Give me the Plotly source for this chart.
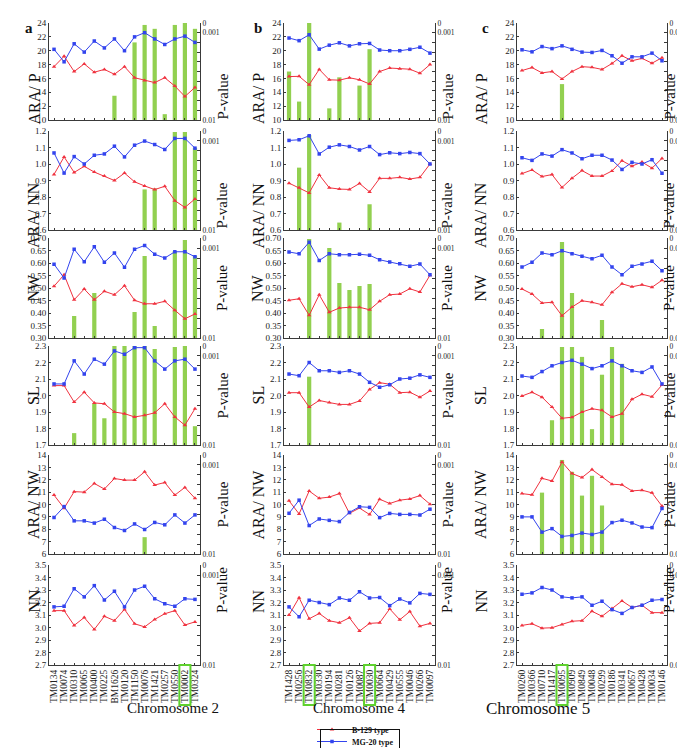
import plotly.graph_objects as go

W, H = 685, 748

# ---------------- data ----------------
chr2_markers = ["TM0134", "TM0074", "TM0310", "TM0065", "TM0400", "TM0225", "BM1626", "TM0120",
                "TM1150", "TM0076", "TM1421", "TM0257", "TM0550", "TM0002", "TM0324"]
chr4_markers = ["TM1428", "TM0256", "TM0832", "TM0330", "TM0194", "TM0281", "TM0126", "TM0087",
                "TM0030", "TM0664", "TM0429", "TM0555", "TM0046", "TM0266", "TM0097"]
chr5_markers = ["TM0260", "TM0366", "TM0710", "TM1417", "TM0095", "TM0909", "TM0849", "TM0048",
                "TM0299", "TM0186", "TM0341", "TM0657", "TM0428", "TM0034", "TM0146"]

trait_names = ["ARA/ P", "ARA/ NN", "NW", "SL", "ARA/ NW", "NN"]
trait_ranges = [[10, 24], [0.6, 1.2], [0.3, 0.7], [1.7, 2.3], [6, 14], [2.7, 3.5]]
trait_dticks = [2, 0.1, 0.05, 0.1, 1, 0.1]
trait_formats = ["d", ".1f", ".2f", ".1f", "d", ".1f"]

# P-value axis: position 0 = 0.01, 9 = 0.001, 10 = 0
pval_tickvals = [0, 1, 2, 3, 4, 5, 6, 7, 8, 9, 10]
pval_ticktext = ["0.01", "", "", "", "", "", "", "", "", "0.001", "0"]

# Chromosome 2
chr2_arap_b129 = [17.7, 19.2, 17.0, 18.1, 16.9, 17.3, 16.6, 17.7, 16.1, 15.7, 15.4, 16.1, 14.9, 13.4, 14.7]
chr2_arap_mg20 = [20.2, 18.4, 21.0, 19.8, 21.4, 20.4, 21.7, 20.0, 22.0, 22.6, 21.7, 20.9, 21.7, 22.1, 21.2]
chr2_arap_p = [0, 0, 0, 0, 0, 0, 2.5, 0, 8.0, 9.8, 9.4, 0.6, 9.8, 10.0, 9.4]
chr2_arann_b129 = [0.937, 1.043, 0.949, 0.986, 0.951, 0.927, 0.900, 0.945, 0.892, 0.867, 0.845, 0.865, 0.778, 0.737, 0.788]
chr2_arann_mg20 = [1.067, 0.945, 1.045, 1.000, 1.053, 1.061, 1.108, 1.043, 1.114, 1.139, 1.118, 1.088, 1.155, 1.155, 1.096]
chr2_arann_p = [0, 0, 0, 0, 0, 0, 0, 0, 0, 4.1, 4.2, 0, 9.9, 9.9, 8.3]
chr2_nw_b129 = [0.507, 0.553, 0.453, 0.496, 0.453, 0.487, 0.473, 0.509, 0.451, 0.437, 0.437, 0.447, 0.411, 0.377, 0.396]
chr2_nw_mg20 = [0.595, 0.540, 0.655, 0.605, 0.665, 0.603, 0.640, 0.583, 0.655, 0.670, 0.635, 0.620, 0.645, 0.645, 0.625]
chr2_nw_p = [0, 0, 2.2, 0, 4.5, 0, 0, 0, 2.6, 8.2, 1.2, 0, 8.7, 9.8, 8.2]
chr2_sl_b129 = [2.06, 2.06, 1.96, 2.02, 1.955, 1.95, 1.90, 1.89, 1.87, 1.88, 1.895, 1.95, 1.87, 1.82, 1.92]
chr2_sl_mg20 = [2.07, 2.07, 2.21, 2.13, 2.22, 2.19, 2.27, 2.25, 2.29, 2.29, 2.21, 2.16, 2.21, 2.22, 2.16]
chr2_sl_p = [0, 0, 1.2, 0, 4.2, 2.7, 10.0, 10.0, 10.0, 10.0, 9.7, 0, 9.9, 10.0, 1.9]
chr2_aranw_b129 = [10.76, 9.70, 11.04, 11.0, 11.7, 11.25, 12.1, 11.97, 11.97, 12.64, 11.57, 11.78, 10.76, 11.38, 10.5]
chr2_aranw_mg20 = [8.95, 9.83, 8.68, 8.68, 8.5, 8.81, 8.14, 7.9, 8.43, 7.98, 8.55, 8.36, 9.16, 8.5, 9.16]
chr2_aranw_p = [0, 0, 0, 0, 0, 0, 0, 0, 0, 1.7, 0, 0, 0, 0, 0]
chr2_nn_b129 = [3.135, 3.135, 3.017, 3.08, 2.985, 3.09, 3.055, 3.145, 3.03, 3.005, 3.065, 3.11, 3.135, 3.02, 3.045]
chr2_nn_mg20 = [3.165, 3.17, 3.31, 3.245, 3.335, 3.22, 3.29, 3.165, 3.30, 3.33, 3.23, 3.19, 3.17, 3.23, 3.225]
chr2_nn_p = [0] * 15

# Chromosome 4
chr4_arap_b129 = [16.27, 16.3, 15.1, 17.3, 15.8, 15.75, 16.1, 15.8, 15.2, 17.0, 17.5, 17.4, 17.33, 16.75, 18.0]
chr4_arap_mg20 = [21.83, 21.45, 22.3, 20.23, 20.8, 21.14, 20.7, 21.0, 21.05, 20.1, 20.0, 20.0, 20.2, 20.5, 19.65]
chr4_arap_p = [5.0, 1.9, 10.0, 0, 1.2, 4.4, 0, 3.55, 7.3, 0, 0, 0, 0, 0, 0]
chr4_arann_b129 = [0.884, 0.856, 0.825, 0.934, 0.856, 0.848, 0.846, 0.882, 0.831, 0.913, 0.913, 0.919, 0.909, 0.919, 1.0]
chr4_arann_mg20 = [1.143, 1.147, 1.171, 1.061, 1.102, 1.116, 1.106, 1.085, 1.106, 1.057, 1.068, 1.063, 1.07, 1.063, 1.0]
chr4_arann_p = [0, 6.3, 9.6, 0, 0, 0.75, 0, 0, 2.6, 0, 0, 0, 0, 0, 0]
chr4_nw_b129 = [0.451, 0.457, 0.391, 0.473, 0.403, 0.420, 0.423, 0.423, 0.413, 0.447, 0.473, 0.476, 0.497, 0.484, 0.551]
chr4_nw_mg20 = [0.644, 0.637, 0.683, 0.610, 0.637, 0.633, 0.633, 0.635, 0.631, 0.613, 0.604, 0.597, 0.587, 0.596, 0.553]
chr4_nw_p = [0, 0, 9.9, 0, 9.0, 5.5, 4.8, 5.2, 5.4, 0, 0, 0, 0, 0, 0]
chr4_sl_b129 = [2.017, 2.017, 1.93, 1.97, 1.957, 1.946, 1.946, 1.967, 2.037, 2.078, 2.068, 2.017, 2.02, 1.99, 2.027]
chr4_sl_mg20 = [2.13, 2.12, 2.2, 2.15, 2.15, 2.14, 2.15, 2.13, 2.08, 2.05, 2.065, 2.10, 2.105, 2.125, 2.11]
chr4_sl_p = [0, 0, 6.9, 0, 0, 0, 0, 0, 0, 0, 0, 0, 0, 0, 0]
chr4_aranw_b129 = [10.3, 9.24, 11.09, 10.5, 10.6, 10.88, 9.29, 9.71, 9.19, 10.43, 10.08, 10.35, 10.45, 10.72, 10.03]
chr4_aranw_mg20 = [9.29, 10.35, 8.3, 8.83, 8.72, 8.62, 9.36, 9.82, 9.77, 8.94, 9.28, 9.2, 9.2, 9.15, 9.62]
chr4_aranw_p = [0] * 15
chr4_nn_b129 = [3.1, 3.239, 3.07, 3.112, 3.054, 3.038, 3.078, 2.972, 3.033, 3.038, 3.149, 3.062, 3.128, 3.011, 3.033]
chr4_nn_mg20 = [3.165, 3.086, 3.218, 3.2, 3.183, 3.236, 3.218, 3.286, 3.236, 3.24, 3.175, 3.228, 3.197, 3.273, 3.265]
chr4_nn_p = [0] * 15

# Chromosome 5
chr5_arap_b129 = [17.14, 17.57, 16.8, 17.0, 15.93, 17.0, 17.7, 17.6, 17.3, 18.15, 19.27, 18.55, 18.9, 18.2, 18.99]
chr5_arap_mg20 = [20.13, 19.84, 20.6, 20.3, 20.7, 20.2, 19.8, 19.75, 20.04, 19.27, 18.2, 19.12, 19.12, 19.65, 18.55]
chr5_arap_p = [0, 0, 0, 0, 3.7, 0, 0, 0, 0, 0, 0, 0, 0, 0, 0]
chr5_arann_b129 = [0.942, 0.964, 0.924, 0.936, 0.858, 0.914, 0.96, 0.927, 0.927, 0.958, 1.02, 0.987, 1.012, 0.975, 1.034]
chr5_arann_mg20 = [1.038, 1.022, 1.061, 1.048, 1.087, 1.067, 1.032, 1.053, 1.053, 1.024, 0.967, 1.01, 1.0, 1.026, 0.944]
chr5_arann_p = [0] * 15
chr5_nw_b129 = [0.496, 0.476, 0.44, 0.443, 0.389, 0.424, 0.449, 0.443, 0.433, 0.483, 0.517, 0.505, 0.513, 0.503, 0.531]
chr5_nw_mg20 = [0.584, 0.603, 0.64, 0.633, 0.649, 0.637, 0.627, 0.617, 0.631, 0.584, 0.553, 0.587, 0.596, 0.607, 0.569]
chr5_nw_p = [0, 0, 0.9, 0, 9.6, 4.5, 0, 0, 1.8, 0, 0, 0, 0, 0, 0]
chr5_sl_b129 = [1.997, 2.02, 1.99, 1.93, 1.862, 1.868, 1.9, 1.92, 1.91, 1.87, 1.89, 1.977, 2.008, 1.993, 2.064]
chr5_sl_mg20 = [2.118, 2.11, 2.145, 2.18, 2.2, 2.213, 2.19, 2.163, 2.18, 2.21, 2.18, 2.15, 2.14, 2.173, 2.07]
chr5_sl_p = [0, 0, 0, 2.5, 9.9, 9.9, 8.9, 1.6, 7.1, 9.9, 8.2, 0, 0, 0, 0]
chr5_aranw_b129 = [10.88, 10.78, 12.12, 11.9, 13.43, 12.5, 12.18, 12.82, 12.23, 11.64, 11.59, 11.1, 11.16, 10.94, 9.87]
chr5_aranw_mg20 = [9.0, 9.0, 7.77, 8.05, 7.42, 7.5, 7.69, 7.58, 7.77, 8.54, 8.73, 8.51, 8.18, 8.13, 9.68]
chr5_aranw_p = [0, 0, 6.2, 0, 9.5, 8.3, 5.9, 7.9, 4.9, 0, 0, 0, 0, 0, 0]
chr5_nn_b129 = [3.017, 3.03, 2.995, 2.998, 3.025, 3.05, 3.055, 3.13, 3.09, 3.152, 3.213, 3.16, 3.178, 3.119, 3.119]
chr5_nn_mg20 = [3.266, 3.277, 3.32, 3.3, 3.245, 3.237, 3.245, 3.178, 3.21, 3.143, 3.113, 3.16, 3.178, 3.218, 3.224]
chr5_nn_p = [0] * 15

columns = [
    dict(markers=chr2_markers, letter="a", label="Chromosome 2", label_size=15, label_y=710,
         highlight=["TM0002"],
         b129=[chr2_arap_b129, chr2_arann_b129, chr2_nw_b129, chr2_sl_b129, chr2_aranw_b129, chr2_nn_b129],
         mg20=[chr2_arap_mg20, chr2_arann_mg20, chr2_nw_mg20, chr2_sl_mg20, chr2_aranw_mg20, chr2_nn_mg20],
         pv=[chr2_arap_p, chr2_arann_p, chr2_nw_p, chr2_sl_p, chr2_aranw_p, chr2_nn_p]),
    dict(markers=chr4_markers, letter="b", label="Chromosome 4", label_size=15, label_y=710,
         highlight=["TM0832", "TM0030"],
         b129=[chr4_arap_b129, chr4_arann_b129, chr4_nw_b129, chr4_sl_b129, chr4_aranw_b129, chr4_nn_b129],
         mg20=[chr4_arap_mg20, chr4_arann_mg20, chr4_nw_mg20, chr4_sl_mg20, chr4_aranw_mg20, chr4_nn_mg20],
         pv=[chr4_arap_p, chr4_arann_p, chr4_nw_p, chr4_sl_p, chr4_aranw_p, chr4_nn_p]),
    dict(markers=chr5_markers, letter="c", label="Chromosome 5", label_size=17, label_y=712,
         highlight=["TM0095"],
         b129=[chr5_arap_b129, chr5_arann_b129, chr5_nw_b129, chr5_sl_b129, chr5_aranw_b129, chr5_nn_b129],
         mg20=[chr5_arap_mg20, chr5_arann_mg20, chr5_nw_mg20, chr5_sl_mg20, chr5_aranw_mg20, chr5_nn_mg20],
         pv=[chr5_arap_p, chr5_arann_p, chr5_nw_p, chr5_sl_p, chr5_aranw_p, chr5_nn_p]),
]

# ---------------- styling / geometry ----------------
SERIF = "Liberation Serif"
RED = "#f0323f"
BLUE = "#3344ee"
GREEN = "#92d050"
AXC = "#3a3a3a"

col_px = [(41, 192), (276, 427), (509, 659)]
row_px = [(15, 112), (123, 222), (230, 330), (338, 437), (447, 546), (557, 657)]


def fx(x):
    return x / W


def fy(y):
    return 1 - y / H


fig = go.Figure()
layout = dict()
annotations = []
shapes = []
NR = 6
NT = 18

for c, col in enumerate(columns):
    x0p, x1p = col_px[c]
    for r in range(NR):
        k = c * NR + r + 1
        kt = k + NT
        xs = "" if k == 1 else str(k)
        y0p, y1p = row_px[r]
        # bars on base (P-value) axis, drawn underneath the trait lines
        fig.add_trace(go.Bar(x=col["markers"], y=col["pv"][r], xaxis="x" + xs, yaxis="y" + xs,
                             marker=dict(color=GREEN, line=dict(width=0)), width=0.42,
                             showlegend=False, hoverinfo="skip"))
        fig.add_trace(go.Scatter(x=col["markers"], y=col["b129"][r], xaxis="x" + xs, yaxis="y" + str(kt),
                                 mode="lines+markers", name="<b>B-129 type</b>",
                                 line=dict(color=RED, width=1),
                                 marker=dict(symbol="triangle-up", size=4, color=RED),
                                 showlegend=(k == 1), legendgroup="b129", legend="legend"))
        fig.add_trace(go.Scatter(x=col["markers"], y=col["mg20"][r], xaxis="x" + xs, yaxis="y" + str(kt),
                                 mode="lines+markers", name="<b>MG-20 type</b>",
                                 line=dict(color=BLUE, width=1),
                                 marker=dict(symbol="square", size=3.5, color=BLUE),
                                 showlegend=(k == 1), legendgroup="mg20", legend="legend2"))
        layout["xaxis" + xs] = dict(
            domain=[fx(x0p), fx(x1p)], anchor="y" + xs, type="category",
            range=[-0.5, 14.5], tickmode="array", tickvals=col["markers"], ticktext=col["markers"],
            showline=True, linecolor=AXC, linewidth=1,
            ticks="inside", ticklen=2, tickcolor=AXC, showgrid=False, zeroline=False,
            showticklabels=(r == NR - 1), tickangle=-90,
            tickfont=dict(family=SERIF, size=9.5, color="#222"))
        layout["yaxis" + xs] = dict(
            domain=[fy(y1p), fy(y0p)], anchor="x" + xs, side="right",
            range=[0, 10], tickmode="array", tickvals=pval_tickvals, ticktext=pval_ticktext,
            showline=True, linecolor=AXC, linewidth=1, ticks="inside", ticklen=3,
            tickcolor=AXC, showgrid=False, zeroline=False,
            tickfont=dict(family=SERIF, size=7.5, color="#222"))
        layout["yaxis" + str(kt)] = dict(
            overlaying="y" + xs, anchor="x" + xs, side="left",
            range=trait_ranges[r], dtick=trait_dticks[r], tick0=trait_ranges[r][0],
            tickformat=trait_formats[r],
            showline=True, linecolor=AXC, linewidth=1, ticks="inside", ticklen=2,
            tickcolor=AXC, showgrid=False, zeroline=False,
            tickfont=dict(family=SERIF, size=9, color="#222"))
        ym = fy((y0p + y1p) / 2)
        annotations.append(dict(text=trait_names[r], x=fx(x0p - 26), y=ym, xref="paper", yref="paper",
                                textangle=-90, showarrow=False,
                                font=dict(family=SERIF, size=16, color="#111")))
        annotations.append(dict(text="P-value", x=fx(x1p + 12), y=ym, xref="paper", yref="paper",
                                textangle=-90, showarrow=False,
                                font=dict(family=SERIF, size=15, color="#111")))
    # bottom row axis reference for highlight boxes
    kb = c * NR + NR
    for name in col["highlight"]:
        i = col["markers"].index(name)
        shapes.append(dict(type="rect", xref="x" + str(kb), yref="paper",
                           x0=i - 0.55, x1=i + 0.55, y0=fy(697), y1=fy(657),
                           line=dict(color="#5fd12e", width=2), fillcolor="rgba(0,0,0,0)"))
    annotations.append(dict(text=col["label"], x=fx((x0p + x1p) / 2), y=fy(col["label_y"]), xref="paper",
                            yref="paper", showarrow=False,
                            font=dict(family=SERIF, size=col["label_size"], color="#111")))
    annotations.append(dict(text="<b>" + col["letter"] + "</b>", x=fx(x0p - 26), y=fy(10),
                            xref="paper", yref="paper", showarrow=False,
                            font=dict(family=SERIF, size=15, color="#111")))

# bordered empty box framing the two single-entry legends as one key
annotations.append(dict(text=" ", x=fx(352), y=fy(734), xref="paper", yref="paper",
                        xanchor="center", yanchor="middle", showarrow=False,
                        width=78, height=25, borderpad=0, borderwidth=1, bordercolor="#111",
                        bgcolor="rgba(0,0,0,0)", font=dict(family=SERIF, size=8)))

legend_common = dict(xanchor="left", yanchor="top", borderwidth=0, bgcolor="rgba(0,0,0,0)",
                     font=dict(family=SERIF, size=8, color="#111"), itemwidth=30,
                     tracegroupgap=0)

fig.update_layout(
    width=W, height=H, margin=dict(l=0, r=0, t=0, b=0, autoexpand=False),
    paper_bgcolor="white", plot_bgcolor="white",
    showlegend=True, barmode="overlay",
    legend=dict(x=fx(304), y=fy(707), **legend_common),
    legend2=dict(x=fx(304), y=fy(719), **legend_common),
    annotations=annotations, shapes=shapes,
    **layout)

fig.write_html("out.html")
